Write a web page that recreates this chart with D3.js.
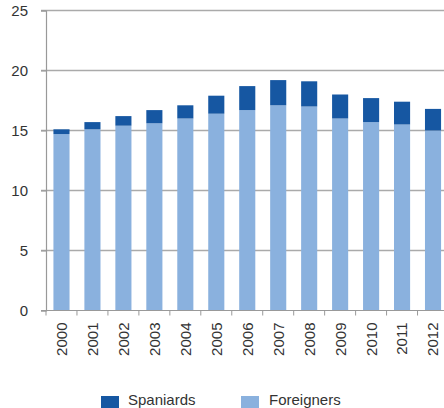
<!DOCTYPE html>
<html>
<head>
<meta charset="utf-8">
<script src="https://cdn.jsdelivr.net/npm/d3@7"></script>
<style>
  body { margin: 0; background: #fff; }
  svg { display: block; font-family: "Liberation Sans", Arial, sans-serif; }
</style>
</head>
<body>
<div id="chart"></div>
<script>
const years = ["2000","2001","2002","2003","2004","2005","2006","2007","2008","2009","2010","2011","2012"];
const foreigners = [14.7, 15.1, 15.4, 15.6, 16.0, 16.4, 16.7, 17.1, 17.0, 16.0, 15.7, 15.5, 15.0];
const spaniards  = [0.4, 0.6, 0.8, 1.1, 1.1, 1.5, 2.0, 2.1, 2.1, 2.0, 2.0, 1.9, 1.8];
const yTicks = [0, 5, 10, 15, 20, 25];
const seriesNames = ["Spaniards", "Foreigners"];

const width = 444, height = 408;
const colors = { Spaniards: "#1657a2", Foreigners: "#8ab1de" };

const svg = d3.select("#chart").append("svg")
    .attr("width", width)
    .attr("height", height);

const x = d3.scaleBand().domain(years).range([46, 448.5]).paddingInner(0.48).paddingOuter(0.24);
const y = d3.scaleLinear().domain([0, 25]).range([310.5, 10.5]);

// gridlines
svg.append("g").selectAll("line")
    .data(yTicks.filter(d => d > 0))
    .join("line")
    .attr("x1", 41).attr("x2", width)
    .attr("y1", d => y(d)).attr("y2", d => y(d))
    .attr("stroke", "#aaa")
    .attr("stroke-width", 1.4);

// y axis
const yAxis = svg.append("g")
    .attr("transform", "translate(46,0)")
    .call(d3.axisLeft(y).tickValues(yTicks).tickSize(5).tickPadding(13));
yAxis.select(".domain").attr("stroke", "#999").attr("stroke-width", 1.2);
yAxis.selectAll(".tick line").attr("stroke", "#999");
yAxis.selectAll("text").attr("font-size", 15).attr("fill", "#333")
    .attr("font-family", "'Liberation Sans', Arial, sans-serif");

// bars
const rows = years.map((yr, i) => ({ year: yr, Foreigners: foreigners[i], Spaniards: spaniards[i] }));
const stack = d3.stack().keys(["Foreigners", "Spaniards"])(rows);

svg.append("g").selectAll("g")
    .data(stack)
    .join("g")
    .attr("fill", d => colors[d.key])
    .selectAll("rect")
    .data(d => d)
    .join("rect")
    .attr("x", d => x(d.data.year))
    .attr("width", x.bandwidth())
    .attr("y", d => y(d[1]))
    .attr("height", d => y(d[0]) - y(d[1]));

// x axis
const xAxis = svg.append("g")
    .attr("transform", `translate(0,${y(0)})`);
xAxis.append("line")
    .attr("x1", 41).attr("x2", width)
    .attr("stroke", "#999").attr("stroke-width", 1.2);
xAxis.selectAll("line.tk")
    .data(years)
    .join("line")
    .attr("class", "tk")
    .attr("x1", d => x(d) - x.step() * x.paddingInner() / 2)
    .attr("x2", d => x(d) - x.step() * x.paddingInner() / 2)
    .attr("y1", 0).attr("y2", 5)
    .attr("stroke", "#999");
xAxis.selectAll("text")
    .data(years)
    .join("text")
    .attr("transform", d => `translate(${x(d) + x.bandwidth() / 2},12) rotate(-90)`)
    .attr("text-anchor", "end")
    .attr("dy", "0.36em")
    .attr("font-size", 15)
    .attr("fill", "#333")
    .text(d => d);

// legend
const legendPos = [{ sx: 101, tx: 128 }, { sx: 241, tx: 269 }];
const legend = svg.append("g").selectAll("g")
    .data(seriesNames)
    .join("g");
legend.append("rect")
    .attr("x", (d, i) => legendPos[i].sx)
    .attr("y", 396)
    .attr("width", 18).attr("height", 12)
    .attr("fill", d => colors[d]);
legend.append("text")
    .attr("x", (d, i) => legendPos[i].tx)
    .attr("y", 405)
    .attr("font-size", 15)
    .attr("fill", "#333")
    .text(d => d);
</script>
</body>
</html>
